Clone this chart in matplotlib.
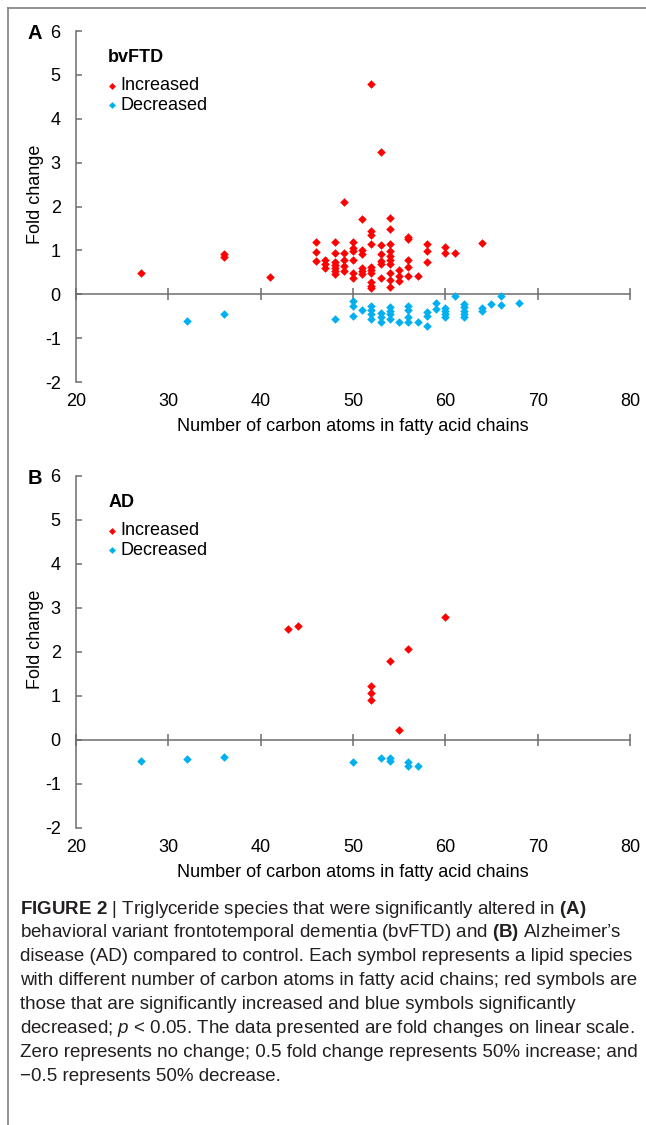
import matplotlib
matplotlib.use("Agg")
import matplotlib.pyplot as plt
from matplotlib.lines import Line2D

plt.rcParams['font.family'] = ['Liberation Sans', 'DejaVu Sans']
plt.rcParams['axes.unicode_minus'] = False
plt.rcParams['mathtext.fontset'] = 'custom'
plt.rcParams['mathtext.rm'] = 'Liberation Sans'
plt.rcParams['mathtext.bf'] = 'Liberation Sans:bold'
plt.rcParams['mathtext.it'] = 'Liberation Sans:italic'

RED = '#ff0000'
BLUE = '#00b0f0'
GREY = '#6e6e6e'

# ---- panel A : bvFTD ----
a_inc_c = [27, 36, 36, 41,
           46, 46, 46, 47, 47, 47,
           48, 48, 48, 48, 48, 48, 48,
           49, 49, 49, 49, 49,
           50, 50, 50, 50, 50, 50,
           51, 51, 51, 51, 51, 51,
           52, 52, 52, 52, 52, 52, 52, 52, 52, 52,
           53, 53, 53, 53, 53, 53,
           54, 54, 54, 54, 54, 54, 54, 54, 54, 54,
           55, 55, 55, 56, 56, 56, 56, 56, 57,
           58, 58, 58, 60, 60, 61, 64]
a_inc_v = [0.48, 0.91, 0.85, 0.40,
           1.19, 0.96, 0.76, 0.78, 0.68, 0.61,
           1.20, 0.93, 0.74, 0.66, 0.59, 0.52, 0.46,
           2.10, 0.93, 0.78, 0.65, 0.53,
           1.19, 1.06, 0.99, 0.78, 0.49, 0.37,
           1.72, 1.02, 0.91, 0.61, 0.53, 0.46,
           4.80, 1.44, 1.36, 1.15, 0.62, 0.55, 0.49, 0.27, 0.20, 0.15,
           3.24, 1.12, 0.91, 0.76, 0.68, 0.37,
           1.74, 1.49, 1.14, 0.99, 0.87, 0.78, 0.68, 0.49, 0.32, 0.17,
           0.55, 0.42, 0.31, 1.31, 1.25, 0.78, 0.62, 0.42, 0.42,
           1.15, 0.99, 0.74, 1.08, 0.95, 0.95, 1.17]

a_dec_c = [32, 36, 48, 50, 50, 50, 51,
           52, 52, 52, 52, 53, 53, 53,
           54, 54, 54, 54, 55, 56, 56, 56, 56, 57,
           58, 58, 58, 59, 59, 60, 60, 60, 60, 61,
           62, 62, 62, 62, 62, 64, 64, 65, 66, 66, 68]
a_dec_v = [-0.60, -0.46, -0.56, -0.15, -0.26, -0.49, -0.36,
           -0.26, -0.36, -0.45, -0.56, -0.43, -0.52, -0.64,
           -0.30, -0.37, -0.46, -0.56, -0.64, -0.26, -0.36, -0.52, -0.64, -0.64,
           -0.41, -0.49, -0.73, -0.19, -0.34, -0.31, -0.37, -0.45, -0.52, -0.05,
           -0.22, -0.30, -0.37, -0.45, -0.52, -0.31, -0.39, -0.22, -0.05, -0.24, -0.20]

# ---- panel B : AD ----
b_inc_c = [43, 44, 52, 52, 52, 54, 55, 56, 60]
b_inc_v = [2.53, 2.59, 1.22, 1.07, 0.92, 1.79, 0.22, 2.06, 2.80]
b_dec_c = [27, 32, 36, 50, 53, 54, 54, 56, 56, 57]
b_dec_v = [-0.47, -0.43, -0.39, -0.49, -0.42, -0.40, -0.48, -0.49, -0.59, -0.59]

x_ticks = [20, 30, 40, 50, 60, 70, 80]
y_ticks = [-2, -1, 0, 1, 2, 3, 4, 5, 6]

caption_lines = [
    "$\\mathbf{FIGURE\\ 2}$ | Triglyceride species that were significantly altered in $\\mathbf{(A)}$",
    "behavioral variant frontotemporal dementia (bvFTD) and $\\mathbf{(B)}$ Alzheimer\u2019s",
    "disease (AD) compared to control. Each symbol represents a lipid species",
    "with different number of carbon atoms in fatty acid chains; red symbols are",
    "those that are significantly increased and blue symbols significantly",
    "decreased; $\\mathit{p}$ < 0.05. The data presented are fold changes on linear scale.",
    "Zero represents no change; 0.5 fold change represents 50% increase; and",
    "\u22120.5 represents 50% decrease.",
]


def panel(ax, letter, name, inc_c, inc_v, dec_c, dec_v):
    ax.scatter(inc_c, inc_v, marker='D', s=19, color=RED, linewidths=0, label='Increased', zorder=3)
    ax.scatter(dec_c, dec_v, marker='D', s=19, color=BLUE, linewidths=0, label='Decreased', zorder=3)
    ax.set_xlim(20, 80)
    ax.set_ylim(-2, 6)
    ax.set_yticks(y_ticks)
    ax.set_xticks(x_ticks)
    for s in ['top', 'right', 'bottom']:
        ax.spines[s].set_visible(False)
    ax.spines['left'].set_color(GREY)
    ax.spines['left'].set_linewidth(1.1)
    ax.tick_params(axis='y', direction='in', length=4, width=1.1, color=GREY,
                   labelsize=13, pad=11)
    ax.tick_params(axis='x', length=0, labelsize=13, pad=8)
    # x axis line drawn at y = 0
    sec = ax.secondary_xaxis(0.25)
    sec.set_xticks(x_ticks)
    sec.tick_params(direction='inout', length=8, width=1.1, color=GREY, labelbottom=False)
    sec.spines['bottom'].set_color(GREY)
    sec.spines['bottom'].set_linewidth(1.1)
    ax.set_xlabel('Number of carbon atoms in fatty acid chains', fontsize=13, labelpad=6)
    ax.set_ylabel('Fold change', fontsize=13)
    ax.yaxis.set_label_coords(-0.058, 0.535)
    ax.text(-0.075, 0.993, letter, transform=ax.transAxes, fontsize=14.5, fontweight='bold',
            ha='center', va='center')
    leg = ax.legend(loc='upper left', bbox_to_anchor=(0.058, 0.948), frameon=False,
                    title=name, title_fontproperties={'weight': 'bold', 'size': 13},
                    alignment='left', fontsize=13, handlelength=0.4, handletextpad=0.3,
                    borderpad=0, borderaxespad=0, labelspacing=0.15, markerscale=0.8)
    leg._legend_box.sep = 8


fig = plt.figure(figsize=(6.46, 11.25), dpi=100)
ax1 = fig.add_axes([0.1176, 0.6604, 0.8576, 0.312])
ax2 = fig.add_axes([0.1176, 0.264, 0.8576, 0.3129])
panel(ax1, 'A', 'bvFTD', a_inc_c, a_inc_v, a_dec_c, a_dec_v)
panel(ax2, 'B', 'AD', b_inc_c, b_inc_v, b_dec_c, b_dec_v)

# page frame (top and left edges)
fig.add_artist(Line2D([0.0124, 1.0], [0.993, 0.993], color='#808080', lw=1.2))
fig.add_artist(Line2D([0.0124, 0.0124], [0.0, 0.993], color='#808080', lw=1.2))

# caption, one line at a time so the spacing stays even
for i, line in enumerate(caption_lines):
    fig.text(0.031, 0.188 - i * 0.02133, line, fontsize=13.5, color='#231f20',
             va='baseline', ha='left')

fig.savefig('out.png', dpi=100)
